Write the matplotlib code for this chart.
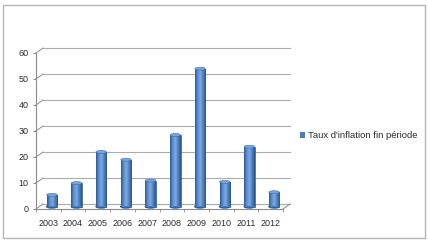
import numpy as np
import matplotlib
matplotlib.use("Agg")
import matplotlib.pyplot as plt
from matplotlib.patches import Rectangle, Ellipse, Patch
from matplotlib.colors import LinearSegmentedColormap

# --------
# DONNEES

annees = ["2003", "2004", "2005", "2006", "2007", "2008", "2009", "2010", "2011", "2012"]
inflation = [4.5, 9.0, 21.0, 18.0, 10.0, 27.5, 53.0, 9.5, 23.0, 5.5]
yticks = [0, 10, 20, 30, 40, 50, 60]
serie = "Taux d'inflation fin période"

# ------
# FIGURE

W, H = 428, 241
fig = plt.figure(figsize=(W / 100, H / 100), dpi=100)
plt.rcParams['font.family'] = ['Liberation Sans', 'DejaVu Sans']

# plan avant de l'axe (en pixels : x 36..283, y 209..53)
ax = fig.add_axes([36 / W, (H - 209) / H, 247 / W, 156 / H])
n = len(annees)
ax.set_xlim(0, n)
ax.set_ylim(0, 60)
for s in ax.spines.values():
    s.set_visible(False)
ax.patch.set_alpha(0)

# décalage de perspective (7 px à droite, 5 px en haut)
dx = 7 / (247 / n)
dy = 5 / (156 / 60)

grid_c = "#ababab"
axis_c = "#8c8c8c"

# murs du fond : grilles + diagonales
for v in yticks:
    ax.plot([dx, n + dx], [v + dy, v + dy], color=grid_c, lw=0.8, clip_on=False, zorder=1)
    ax.plot([0, dx], [v, v + dy], color=axis_c, lw=0.7, clip_on=False, zorder=1)
ax.plot([n, n + dx], [0, dy], color=axis_c, lw=0.7, clip_on=False, zorder=1)
# axes avant
ax.plot([0, 0], [0, 60], color=axis_c, lw=0.8, clip_on=False, zorder=2)
ax.plot([0, n], [0, 0], color=axis_c, lw=0.8, clip_on=False, zorder=2)

# barres cylindriques
x = np.arange(n) + 0.5 + dx / 2
w = 0.42
bars = ax.bar(x, inflation, width=w, bottom=dy / 2, color="#4a7ebb",
              edgecolor="#2f5e97", lw=0.5, zorder=3, label=serie)

cmap = LinearSegmentedColormap.from_list("cyl", ["#2b5a92", "#5d8fd0", "#7eaae0", "#4f80c0", "#2a558a"])
grad = np.linspace(0, 1, 64).reshape(1, -1)
eh = 3 / (156 / 60)
for b, v in zip(bars, inflation):
    x0 = b.get_x()
    im = ax.imshow(grad, extent=[x0, x0 + w, dy / 2, v + dy / 2], aspect="auto",
                   cmap=cmap, zorder=4, clip_on=True)
    im.set_clip_path(b)
    ax.add_patch(Ellipse((x0 + w / 2, dy / 2), w, eh, color="#2f5e97", zorder=2.9))
    ax.add_patch(Ellipse((x0 + w / 2, v + dy / 2), w, eh, facecolor="#79a3dc",
                         edgecolor="#3f6fae", lw=0.4, zorder=5))
ax.set_xlim(0, n)
ax.set_ylim(0, 60)

# graduations
ax.set_yticks(yticks)
ax.tick_params(axis="y", length=2.5, color=axis_c, pad=3, labelsize=6.5, labelcolor="#2b2b2b")
ax.set_xticks(np.arange(n) + 0.5)
ax.set_xticklabels(annees)
ax.set_xticks(np.arange(n + 1), minor=True)
ax.tick_params(axis="x", which="major", length=0, pad=7.5, labelsize=6.5, labelcolor="#2b2b2b")
ax.tick_params(axis="x", which="minor", length=2.5, color=axis_c)

# légende
ax.legend(handles=[Patch(facecolor="#4a7ebb", label=serie)], loc="center left",
          bbox_to_anchor=(295 / W, 1 - 136 / H), bbox_transform=fig.transFigure,
          frameon=False, fontsize=6.8, handlelength=0.55, handleheight=0.55,
          handletextpad=0.35, borderpad=0, labelcolor="#2b2b2b")

# cadre
fig.patches.append(Rectangle((3 / W, 1 - 238 / H), 422 / W, 233 / H, transform=fig.transFigure,
                             fill=False, edgecolor="#b5b5b5", lw=1.0))

fig.savefig("out.png", dpi=100)
